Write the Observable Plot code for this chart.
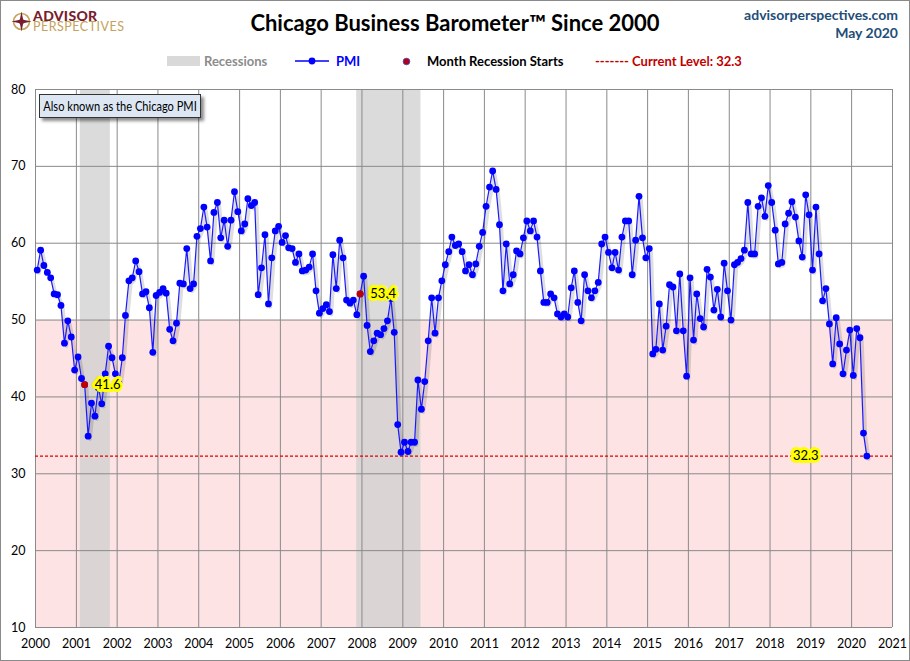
<!DOCTYPE html>
<html>
<head>
<meta charset="utf-8">
<script src="https://cdn.jsdelivr.net/npm/d3@7"></script>
<script src="https://cdn.jsdelivr.net/npm/@observablehq/plot@0.6"></script>
<style>
  body { margin: 0; background: #fff; font-family: Lato, "Open Sans", sans-serif; }
  #wrap { position: relative; width: 910px; height: 661px; overflow: hidden; background: #fff; }
  #border { position: absolute; left: 0; top: 0; width: 908px; height: 659px; border: 1px solid #8a8a8a; pointer-events: none; z-index: 5; }
  #header { position: relative; height: 80px; }
  .abs { position: absolute; white-space: nowrap; }
  #title { left: 0; width: 910px; top: 9px; text-align: center; font-size: 22px; font-weight: bold; color: #000; }
  #url { right: 12px; top: 6px; font-size: 14px; font-weight: bold; color: #1f4e79; }
  #date { right: 12px; top: 24px; font-size: 14px; font-weight: bold; color: #1f4e79; }
  .leg { top: 53px; font-size: 13px; font-weight: bold; }
  #note { position: absolute; left: 39px; top: 94px; width: 160px; height: 22px; line-height: 22px; white-space: nowrap;
          background: #dde7f3; border: 1px solid #333; box-shadow: 3px 3px 3px rgba(0,0,0,0.45); color: #000; z-index: 4; }
  #note span { position: absolute; left: 50%; top: 0; font-size: 13.5px; transform: translateX(-50%) scaleX(0.82); transform-origin: 50% 50%; }
</style>
</head>
<body>
<div id="wrap">
  <div id="border"></div>
  <div id="header">
    <svg class="abs" style="left:0;top:0" width="140" height="40">
      <g transform="translate(11,11)">
        <circle cx="10.5" cy="10.5" r="8" fill="none" stroke="#c3a25a" stroke-width="1.6"/>
        <polygon points="10.5,0.5 12.2,8.8 20.5,10.5 12.2,12.2 10.5,20.5 8.8,12.2 0.5,10.5 8.8,8.8" fill="#7a1c2e"/>
        <circle cx="10.5" cy="10.5" r="2.6" fill="#7a1c2e"/>
      </g>
      <text font-family="Lato, sans-serif"><tspan x="33" y="21.3" font-size="14" font-weight="900" fill="#7a1c2e" letter-spacing="0.3">ADVISOR</tspan><tspan x="33" y="31.2" font-size="12.5" fill="#c3a25a" letter-spacing="0.5">PERSPECTIVES</tspan></text>
    </svg>
    <div id="title" class="abs">Chicago Business Barometer™ Since 2000</div>
    <div id="url" class="abs">advisorperspectives.com</div>
    <div id="date" class="abs">May 2020</div>

    <div class="abs" style="left:167px;top:56px;width:33px;height:10px;background:#d9d9d9"></div>
    <div class="abs leg" style="left:204px;color:#8c8c8c">Recessions</div>
    <svg class="abs" style="left:295px;top:55px" width="34" height="12">
      <line x1="0" y1="6" x2="34" y2="6" stroke="#0000ff" stroke-width="1.6"/>
      <circle cx="17" cy="6" r="3.4" fill="#0000ff"/>
    </svg>
    <div class="abs leg" style="left:336px;color:#0000ff">PMI</div>
    <svg class="abs" style="left:401px;top:56px" width="11" height="11">
      <circle cx="5.5" cy="5.5" r="3.3" fill="#b0001e" stroke="#4040b0" stroke-width="0.8"/>
    </svg>
    <div class="abs leg" style="left:427px;color:#000">Month Recession Starts</div>
    <div class="abs leg" style="left:595px;color:#c00000">------- Current Level: 32.3</div>
  </div>
  <div id="note"><span>Also known as the Chicago PMI</span></div>
  <div id="chart"></div>
</div>
<script>
// Chicago Business Barometer (PMI), monthly, Jan 2000 - May 2020
const firstMonth = [2000, 0];
const pmi = [
  // 2000
  56.5, 59.1, 57.1, 56.2, 55.5, 53.4, 53.3, 51.9, 47.0, 49.9, 47.8, 43.5,
  // 2001
  45.2, 42.4, 41.6, 34.9, 39.2, 37.5, 41.2, 39.1, 43.0, 46.6, 45.1, 43.0,
  // 2002
  41.8, 45.1, 50.6, 55.1, 55.5, 57.7, 56.3, 53.4, 53.7, 51.6, 45.8, 53.2,
  // 2003
  53.6, 54.1, 53.5, 48.8, 47.3, 49.6, 54.8, 54.7, 59.3, 54.1, 54.7, 60.9,
  // 2004
  61.9, 64.7, 62.1, 57.7, 64.0, 65.3, 60.7, 63.0, 59.6, 63.0, 66.7, 64.1,
  // 2005
  61.6, 62.5, 65.8, 64.9, 65.3, 53.3, 56.8, 61.1, 52.1, 58.1, 61.6, 62.2,
  // 2006
  60.1, 61.0, 59.4, 59.3, 57.5, 58.6, 56.4, 56.5, 56.9, 58.6, 53.8, 50.9,
  // 2007
  51.5, 52.0, 51.1, 58.5, 54.1, 60.4, 58.1, 52.6, 52.2, 52.6, 50.7, 53.4,
  // 2008
  55.7, 49.3, 45.9, 47.3, 48.3, 48.1, 48.9, 49.9, 52.8, 48.4, 36.4, 32.8,
  // 2009
  34.1, 32.9, 34.1, 34.1, 42.2, 38.4, 42.0, 47.3, 52.9, 48.3, 52.9, 55.1,
  // 2010
  57.2, 58.9, 60.8, 59.7, 59.9, 58.9, 56.4, 57.2, 55.9, 57.3, 59.6, 61.4,
  // 2011
  64.8, 67.3, 69.4, 67.0, 62.4, 53.8, 59.9, 54.7, 55.9, 59.0, 58.6, 60.7,
  // 2012
  62.9, 61.6, 62.9, 60.8, 56.4, 52.3, 52.3, 53.4, 52.9, 50.8, 50.4, 50.8,
  // 2013
  50.4, 54.2, 56.4, 52.3, 49.9, 55.9, 53.8, 52.9, 53.8, 54.9, 59.9, 60.8,
  // 2014
  58.8, 56.8, 58.8, 56.5, 60.8, 62.9, 62.9, 55.9, 60.4, 66.1, 60.7, 58.1,
  // 2015
  59.3, 45.6, 46.2, 52.1, 46.1, 49.2, 54.6, 54.3, 48.6, 56.0, 48.6, 42.7,
  // 2016
  55.5, 47.4, 53.4, 50.2, 49.1, 56.6, 55.6, 51.3, 54.0, 50.4, 57.4, 53.8,
  // 2017
  50.0, 57.2, 57.5, 58.0, 59.1, 65.3, 58.6, 58.6, 64.8, 65.9, 63.5, 67.5,
  // 2018
  65.3, 61.7, 57.3, 57.5, 62.5, 63.9, 65.4, 63.4, 60.3, 58.2, 66.3, 63.7,
  // 2019
  56.5, 64.7, 58.6, 52.5, 54.1, 49.5, 44.3, 50.3, 46.9, 43.0, 46.1, 48.7,
  // 2020
  42.8, 48.9, 47.7, 35.3, 32.3
];
const recessionStarts = ["2001-03", "2007-12"];
const recessionLabels = ["41.6", "53.4"];
const recessions = [
  { start: "2001-02-05", end: "2001-11-01" },
  { start: "2007-11-15", end: "2009-06-12" }
];
const currentLevel = 32.3;
const contraction = [10, 50];
const yearLabels = [2000,2001,2002,2003,2004,2005,2006,2007,2008,2009,2010,2011,2012,2013,2014,2015,2016,2017,2018,2019,2020,2021];
const yTicks = [10, 20, 30, 40, 50, 60, 70, 80];

const series = pmi.map((v, i) => ({
  date: new Date(Date.UTC(firstMonth[0], firstMonth[1] + i, 16)),
  value: v,
  key: d3.utcFormat("%Y-%m")(new Date(Date.UTC(firstMonth[0], firstMonth[1] + i, 1)))
}));
const starts = recessionStarts.map((k, i) => {
  const p = series.find(d => d.key === k);
  return { date: p.date, value: p.value, label: recessionLabels[i] };
});
const last = series[series.length - 1];
const yearDates = yearLabels.map(y => new Date(Date.UTC(y, 0, 1)));
const xDomain = [yearDates[0], yearDates[yearDates.length - 1]];
const recs = recessions.map(r => ({ x1: new Date(r.start), x2: new Date(r.end) }));

const chart = Plot.plot({
  width: 910,
  height: 581,
  marginTop: 9,
  marginBottom: 34,
  marginLeft: 35,
  marginRight: 18,
  style: { fontFamily: "Lato, sans-serif", fontSize: "12.5px", color: "#000", background: "transparent" },
  x: { type: "utc", domain: xDomain, ticks: yearDates, tickFormat: d3.utcFormat("%Y"), tickSize: 0, tickPadding: 12, label: null },
  y: { domain: [yTicks[0], yTicks[yTicks.length - 1]], ticks: yTicks, tickSize: 0, tickPadding: 10, label: null },
  marks: [
    Plot.rect([{ x1: xDomain[0], x2: xDomain[1], y1: contraction[0], y2: contraction[1] }],
      { x1: "x1", x2: "x2", y1: "y1", y2: "y2", fill: "#fde3e3" }),
    Plot.rect(recs, { x1: "x1", x2: "x2", y1: () => yTicks[0], y2: () => yTicks[yTicks.length - 1], fill: "#cfcfcf", fillOpacity: 0.75 }),
    Plot.ruleX(yearDates, { stroke: "#8a8a8a", strokeWidth: 1 }),
    Plot.ruleY(yTicks, { stroke: "#8a8a8a", strokeWidth: 1 }),
    Plot.ruleY([currentLevel], { stroke: "#e00000", strokeWidth: 1.3, strokeDasharray: "3,2" }),
    Plot.line(series, { x: "date", y: "value", stroke: "#000", strokeOpacity: 0.13, strokeWidth: 3.5, dx: 2, dy: 3 }),
    Plot.line(series, { x: "date", y: "value", stroke: "#1a1aff", strokeWidth: 1.2 }),
    Plot.dot(series, { x: "date", y: "value", r: 3.4, fill: "#0000ff" }),
    Plot.dot(starts, { x: "date", y: "value", r: 3.4, fill: "#c00000" }),
    Plot.text(starts, { x: "date", y: "value", text: "label", dx: 23, fill: "#000", stroke: "#ffff00", strokeWidth: 6,
      strokeLinejoin: "round", paintOrder: "stroke", fontSize: 13 }),
    Plot.text([last], { x: "date", y: "value", text: d => d.value.toFixed(1), dx: -61, fill: "#000", stroke: "#ffff00",
      strokeWidth: 6, strokeLinejoin: "round", paintOrder: "stroke", fontSize: 13 })
  ]
});
document.getElementById("chart").appendChild(chart);
</script>
</body>
</html>
